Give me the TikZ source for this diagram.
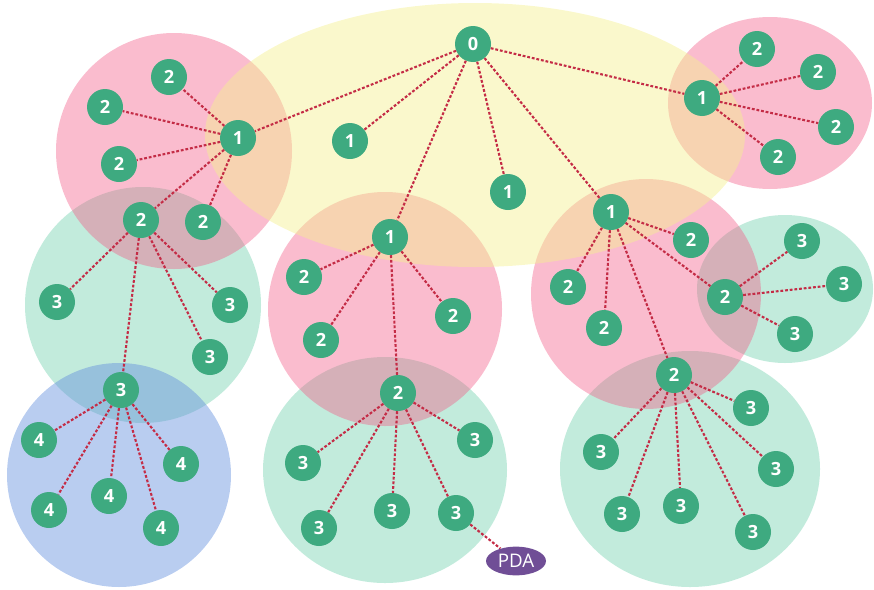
\documentclass[tikz,border=0pt]{standalone}
\usepackage{fontspec}
\setsansfont{Open Sans}
\usetikzlibrary{shapes.geometric}
\definecolor{nodegreen}{RGB}{62,170,128}
\definecolor{linkred}{RGB}{196,44,70}
\definecolor{pdapurple}{RGB}{112,78,150}
\definecolor{zonegreen}{RGB}{194,235,220}
\definecolor{zoneblue}{RGB}{100,144,222}
\definecolor{zonepink}{RGB}{242,88,132}
\definecolor{zoneyellow}{RGB}{244,240,142}
\begin{document}
\begin{tikzpicture}[x=0.03cm,y=-0.03cm,
		tn/.style={circle,fill=nodegreen,text=white,minimum size=1.08cm,inner sep=0pt,font=\sffamily\bfseries\fontsize{15.5}{15.5}\selectfont},
		link/.style={draw=linkred,line width=1.8pt,dash pattern=on 2.4pt off 1.6pt},
		pinkzone/.style={fill=zonepink,fill opacity=0.4},
		greenzone/.style={fill=zonegreen}]
		\useasboundingbox (0,0) rectangle (874,589);
		% zones
		\fill [greenzone] (143,305) circle (118);
		\fill [greenzone] (385,470) ellipse (122 and 113);
		\fill [greenzone] (785,289) ellipse (88 and 74);
		\fill [greenzone] (690,469) ellipse (130 and 118);
		\fill [fill=zoneblue,fill opacity=0.45] (119,475) circle (112);
		\fill [pinkzone] (174,151) circle (118);
		\fill [pinkzone] (385,309) circle (117);
		\fill [pinkzone] (646,294) circle (115);
		\fill [pinkzone] (770,103) ellipse (102 and 86);
		\fill [fill=zoneyellow,fill opacity=0.45] (475,135) ellipse (270 and 132);
		% level 0 and 1
		\node [tn] (n0) at (473,44) {0};
		\node [tn] (a1) at (238,138) {1};
		\node [tn] (b1) at (350,141) {1};
		\node [tn] (c1) at (508,192) {1};
		\node [tn] (d1) at (390,237) {1};
		\node [tn] (e1) at (611,212) {1};
		\node [tn] (f1) at (702,98) {1};
		% left branch
		\node [tn] (a21) at (169,77) {2};
		\node [tn] (a22) at (105,107) {2};
		\node [tn] (a23) at (119,164) {2};
		\node [tn] (a24) at (141,220) {2};
		\node [tn] (a25) at (203,222) {2};
		\node [tn] (a31) at (57,302) {3};
		\node [tn] (a32) at (230,305) {3};
		\node [tn] (a33) at (210,357) {3};
		\node [tn] (a34) at (121,390) {3};
		\node [tn] (a41) at (39,440) {4};
		\node [tn] (a42) at (49,510) {4};
		\node [tn] (a43) at (109,496) {4};
		\node [tn] (a44) at (181,464) {4};
		\node [tn] (a45) at (161,528) {4};
		% middle branch
		\node [tn] (d21) at (304,277) {2};
		\node [tn] (d22) at (321,340) {2};
		\node [tn] (d23) at (453,316) {2};
		\node [tn] (d24) at (398,393) {2};
		\node [tn] (d31) at (303,463) {3};
		\node [tn] (d32) at (319,528) {3};
		\node [tn] (d33) at (392,511) {3};
		\node [tn] (d34) at (456,513) {3};
		\node [tn] (d35) at (475,440) {3};
		\node [ellipse,fill=pdapurple,text=white,minimum width=1.8cm,minimum height=0.86cm,inner sep=0pt,font=\sffamily\fontsize{16}{16}\selectfont] (pda) at (516,561) {PDA};
		% right branch
		\node [tn] (e21) at (568,287) {2};
		\node [tn] (e22) at (604,328) {2};
		\node [tn] (e23) at (691,240) {2};
		\node [tn] (e24) at (725,297) {2};
		\node [tn] (e25) at (674,375) {2};
		\node [tn] (e31) at (802,241) {3};
		\node [tn] (e32) at (844,284) {3};
		\node [tn] (e33) at (795,334) {3};
		\node [tn] (e34) at (601,452) {3};
		\node [tn] (e35) at (622,514) {3};
		\node [tn] (e36) at (681,506) {3};
		\node [tn] (e37) at (751,408) {3};
		\node [tn] (e38) at (776,469) {3};
		\node [tn] (e39) at (753,532) {3};
		% top right branch
		\node [tn] (f21) at (757,49) {2};
		\node [tn] (f22) at (818,72) {2};
		\node [tn] (f23) at (836,127) {2};
		\node [tn] (f24) at (778,157) {2};
		% links
		\foreach \t in {a1,b1,c1,d1,e1,f1}
			\draw [link] (n0) -- (\t);
		\foreach \t in {a21,a22,a23,a24,a25}
			\draw [link] (a1) -- (\t);
		\foreach \t in {a31,a32,a33,a34}
			\draw [link] (a24) -- (\t);
		\foreach \t in {a41,a42,a43,a44,a45}
			\draw [link] (a34) -- (\t);
		\foreach \t in {d21,d22,d23,d24}
			\draw [link] (d1) -- (\t);
		\foreach \t in {d31,d32,d33,d34,d35}
			\draw [link] (d24) -- (\t);
		\draw [link] (d34) -- (pda);
		\foreach \t in {e21,e22,e23,e24,e25}
			\draw [link] (e1) -- (\t);
		\foreach \t in {e31,e32,e33}
			\draw [link] (e24) -- (\t);
		\foreach \t in {e34,e35,e36,e37,e38,e39}
			\draw [link] (e25) -- (\t);
		\foreach \t in {f21,f22,f23,f24}
			\draw [link] (f1) -- (\t);
	\end{tikzpicture}
\end{document}
